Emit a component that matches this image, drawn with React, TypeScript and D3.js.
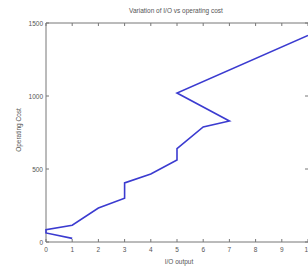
import React from "react";
import * as d3 from "d3";

const ioOutput = [1, 0, 0, 1, 2, 3, 3, 4, 5, 5, 6, 7, 5, 10];
const operatingCost = [25, 62, 85, 115, 233, 300, 405, 466, 562, 640, 788, 829, 1020, 1415];
const xTicks = [0, 1, 2, 3, 4, 5, 6, 7, 8, 9, 10];
const yTicks = [0, 500, 1000, 1500];
const title = "Variation of I/O vs operating cost";
const xLabel = "I/O output";
const yLabel = "Operating Cost";

export default function App() {
  const W = 308, H = 269;
  const x = d3.scaleLinear().domain([0, 10]).range([46, 308]);
  const y = d3.scaleLinear().domain([0, 1500]).range([242, 23]);
  const pts = ioOutput.map((v, i) => [v, operatingCost[i]] as [number, number]);
  const line = d3.line<[number, number]>().x(d => x(d[0])).y(d => y(d[1]));
  const axisColor = "#777";
  const textColor = "#555";
  const font = "Liberation Sans, Arial, sans-serif";
  return (
    <svg width={W} height={H} style={{ position: "absolute", left: 0, top: 0, background: "#fff" }} fontFamily={font}>
      <rect x={0} y={0} width={W} height={H} fill="#fff" />
      <line x1={x(0)} x2={x(10)} y1={y(0)} y2={y(0)} stroke={axisColor} strokeWidth={1} />
      <line x1={x(0)} x2={x(10)} y1={y(1500)} y2={y(1500)} stroke={axisColor} strokeWidth={1} />
      <line x1={x(0)} x2={x(0)} y1={y(0)} y2={y(1500)} stroke={axisColor} strokeWidth={1} />
      {xTicks.map(t => (
        <g key={"x" + t}>
          <line x1={x(t)} x2={x(t)} y1={y(0)} y2={y(0) - 3} stroke={axisColor} />
          <line x1={x(t)} x2={x(t)} y1={y(1500)} y2={y(1500) + 3} stroke={axisColor} />
          <text x={x(t)} y={y(0) + 10} fontSize={6.5} fill={textColor} textAnchor="middle">{t}</text>
        </g>
      ))}
      {yTicks.map(t => (
        <g key={"y" + t}>
          <line x1={x(0)} x2={x(0) + 3} y1={y(t)} y2={y(t)} stroke={axisColor} />
          <line x1={x(10)} x2={x(10) - 3} y1={y(t)} y2={y(t)} stroke={axisColor} />
          <text x={x(0) - 3} y={y(t) + 2.5} fontSize={6.5} fill={textColor} textAnchor="end">{t}</text>
        </g>
      ))}
      <path d={line(pts) || ""} fill="none" stroke="#3b3bd0" strokeWidth={1.6} strokeLinejoin="miter" />
      <text x={176} y={13} fontSize={6.5} fill={textColor} textAnchor="middle">{title}</text>
      <text x={179} y={264} fontSize={6.5} fill={textColor} textAnchor="middle">{xLabel}</text>
      <text transform={`translate(21,130) rotate(-90)`} fontSize={6.5} fill={textColor} textAnchor="middle">{yLabel}</text>
    </svg>
  );
}
